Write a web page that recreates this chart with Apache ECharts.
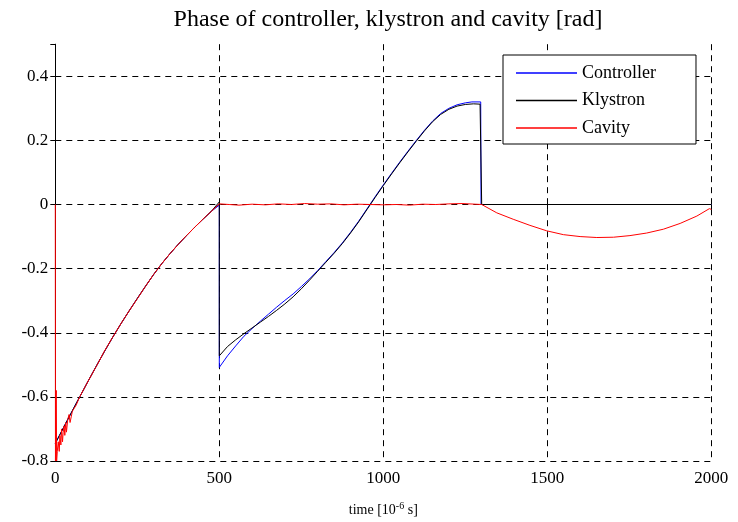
<!DOCTYPE html>
<html>
<head>
<meta charset="utf-8">
<script src="https://cdn.jsdelivr.net/npm/echarts@6/dist/echarts.min.js"></script>
<style>
html,body{margin:0;padding:0;background:#fff;}
#chart{width:738px;height:522px;}
</style>
</head>
<body>
<div id="chart"></div>
<script>
// ---- data ----
var seriesNames = ['Controller', 'Klystron', 'Cavity'];
var xTicks = [0, 500, 1000, 1500, 2000];
var yTicks = [-0.8, -0.6, -0.4, -0.2, 0, 0.2, 0.4];

// first pulse segment (0..475), shared shape
var rampT = [0, 25, 50, 75, 100, 125, 150, 175, 200, 225, 250, 275, 300, 325, 350, 375, 400, 425, 450, 475];
var rampV = [-0.745, -0.696, -0.647, -0.599, -0.551, -0.504, -0.458, -0.414, -0.372, -0.332, -0.293, -0.255, -0.218, -0.184, -0.153, -0.124, -0.097, -0.071, -0.046, -0.022];

var ctrlT = [500, 500, 525, 550, 575, 600, 625, 650, 675, 700, 725, 750, 775, 800, 825, 850, 875, 900, 925, 950, 975, 1000, 1025, 1050, 1075, 1100, 1125, 1150, 1175, 1200, 1225, 1250, 1270, 1297, 1298, 2000];
var ctrlV = [-0.002, -0.508, -0.472, -0.441, -0.411, -0.387, -0.364, -0.342, -0.320, -0.299, -0.279, -0.256, -0.232, -0.206, -0.178, -0.150, -0.120, -0.087, -0.052, -0.014, 0.024, 0.061, 0.097, 0.132, 0.166, 0.199, 0.231, 0.260, 0.284, 0.300, 0.311, 0.317, 0.320, 0.320, 0, 0];

var klyT = [500, 500, 525, 550, 575, 600, 625, 650, 675, 700, 725, 750, 775, 800, 825, 850, 875, 900, 925, 950, 975, 1000, 1025, 1050, 1075, 1100, 1125, 1150, 1175, 1200, 1225, 1250, 1275, 1295, 1300, 2000];
var klyV = [0.008, -0.472, -0.443, -0.422, -0.403, -0.385, -0.367, -0.349, -0.330, -0.310, -0.288, -0.263, -0.236, -0.208, -0.180, -0.152, -0.122, -0.089, -0.054, -0.016, 0.022, 0.059, 0.095, 0.130, 0.164, 0.197, 0.229, 0.258, 0.281, 0.297, 0.307, 0.312, 0.314, 0.313, 0, 0];

var cavT = [0, 0.5, 2, 3, 4, 6, 9, 12, 14, 17, 19, 22, 24, 27, 29, 32, 34, 38, 42, 45, 49, 52, 54, 58, 64, 70,
  75, 100, 125, 150, 175, 200, 225, 250, 275, 300, 325, 350, 375, 400, 425, 450, 475,
  500, 530, 560, 600, 640, 680, 720, 760, 800, 840, 880, 920, 960, 1000, 1040, 1080, 1120, 1160, 1200, 1240, 1280, 1300,
  1346, 1396, 1447, 1498, 1549, 1600, 1651, 1702, 1752, 1803, 1854, 1905, 1956, 1994, 2000];
var cavV = [0, -0.8, -0.6, -0.58, -0.8, -0.77, -0.74, -0.77, -0.72, -0.75, -0.70, -0.74, -0.71, -0.69, -0.72, -0.68, -0.71, -0.67, -0.655, -0.68, -0.66, -0.645, -0.64, -0.635, -0.625, -0.61,
  -0.599, -0.551, -0.505, -0.457, -0.414, -0.372, -0.332, -0.294, -0.255, -0.218, -0.184, -0.153, -0.124, -0.097, -0.071, -0.046, -0.022,
  0.002, 0.0, -0.002, 0.001, -0.001, 0.002, 0.0, 0.003, 0.001, 0.002, -0.001, 0.001, 0.0, -0.001, 0.0, -0.002, 0.001, 0.0, 0.002, 0.003, 0.001, 0.0,
  -0.026, -0.046, -0.065, -0.082, -0.094, -0.100, -0.103, -0.102, -0.097, -0.089, -0.077, -0.059, -0.036, -0.013, -0.015];

// ---- build ----
function zip(t, v) { var o = []; for (var i = 0; i < t.length; i++) o.push([t[i], v[i]]); return o; }
var ctrlData = zip(rampT, rampV).concat(zip(ctrlT, ctrlV));
var klyData = zip(rampT, rampV).concat(zip(klyT, klyV));
var cavData = zip(cavT, cavV);

var FONT = 'Liberation Serif';
var chart = echarts.init(document.getElementById('chart'));
var dash = { color: '#000', type: [6, 5], width: 1 };

chart.setOption({
  animation: false,
  backgroundColor: '#fff',
  title: {
    text: 'Phase of controller, klystron and cavity [rad]',
    left: 383, top: 3, textAlign: 'center',
    textStyle: { fontFamily: FONT, fontSize: 24, fontWeight: 'normal', color: '#000' }
  },
  legend: {
    data: seriesNames,
    orient: 'vertical',
    left: 503, top: 55,
    padding: [8, 40, 6, 13],
    itemGap: 7.5,
    itemWidth: 61, itemHeight: 1.5,
    icon: 'rect',
    selectedMode: false,
    backgroundColor: '#fff', borderColor: '#000', borderWidth: 1,
    textStyle: { fontFamily: FONT, fontSize: 18, color: '#000', lineHeight: 20 }
  },
  grid: { left: 55.3, right: 26.7, top: 44.2, bottom: 55.3 },
  xAxis: [{
    type: 'value', min: xTicks[0], max: xTicks[xTicks.length - 1], interval: 500,
    position: 'bottom',
    axisLine: { show: false },
    axisTick: { show: true, inside: true, length: 5, lineStyle: { color: '#000' } },
    axisLabel: { fontFamily: FONT, fontSize: 17, color: '#000', margin: 9,
      formatter: function (v) { return String(v); } },
    splitLine: { show: true, lineStyle: dash },
    name: '{a|time [10}{s|-6}{a| s]}',
    nameLocation: 'middle', nameGap: 40,
    nameTextStyle: {
      rich: {
        a: { fontFamily: FONT, fontSize: 14, color: '#000', verticalAlign: 'bottom', lineHeight: 16 },
        s: { fontFamily: FONT, fontSize: 10, color: '#000', verticalAlign: 'top', lineHeight: 16, padding: [0, 0, 6, 0] }
      }
    }
  }, {
    type: 'value', min: xTicks[0], max: xTicks[xTicks.length - 1], interval: 500,
    position: 'top',
    axisLine: { show: false },
    axisTick: { show: true, inside: true, length: 5, lineStyle: { color: '#000' } },
    axisLabel: { show: false },
    splitLine: { show: false }
  }],
  yAxis: [{
    type: 'value', min: yTicks[0], max: 0.5, interval: 0.2,
    position: 'left',
    axisLine: { show: true, lineStyle: { color: '#000', width: 1 } },
    axisTick: { show: true, inside: true, length: 5, lineStyle: { color: '#000' } },
    axisLabel: { fontFamily: FONT, fontSize: 17, color: '#000', margin: 7, showMaxLabel: false,
      formatter: function (v) { return String(Math.round(v * 10) / 10); } },
    splitLine: { show: true, lineStyle: dash, showMaxLine: false }
  }, {
    type: 'value', min: yTicks[0], max: 0.5, interval: 0.2,
    position: 'right',
    axisLine: { show: false },
    axisTick: { show: true, inside: true, length: 5, lineStyle: { color: '#000' } },
    axisLabel: { show: false },
    splitLine: { show: false }
  }],
  series: [
    { name: seriesNames[0], type: 'line', data: ctrlData, showSymbol: false, symbol: 'none', color: '#0000ff',
      lineStyle: { color: '#0000ff', width: 1 }, z: 3 },
    { name: seriesNames[1], type: 'line', data: klyData, showSymbol: false, symbol: 'none', color: '#000000',
      lineStyle: { color: '#000000', width: 1 }, z: 4 },
    { name: seriesNames[2], type: 'line', data: cavData, showSymbol: false, symbol: 'none', color: '#ff0000',
      lineStyle: { color: '#ff0000', width: 1 }, z: 5 }
  ]
});
</script>
</body>
</html>
